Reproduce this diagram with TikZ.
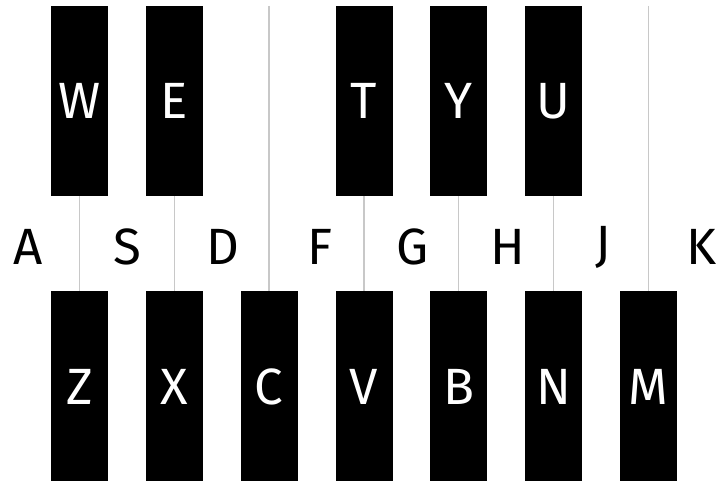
\documentclass[tikz,border=0pt]{standalone}
\usepackage{fontspec}
\setmainfont{Fira Sans}
\usetikzlibrary{positioning}
\definecolor{keyline}{HTML}{C8C8C8}

\begin{document}
\begin{tikzpicture}[x=1pt,y=1pt,
    blackkey/.style={fill=black,text=white,inner sep=0pt,
      minimum width=57pt,minimum height=190pt,font=\fontsize{51}{51}\selectfont},
    keyname/.style={text=black,inner sep=0pt,font=\fontsize{51}{51}\selectfont},
    divider/.style={keyline,line width=1.5pt}]
    \useasboundingbox (0,0) rectangle (718,481);
    % upper row
    \node[blackkey] (w) at (79.5,380) {W};
    \node[blackkey] (e) at (174.5,380) {E};
    \node[blackkey] (t) at (364,380) {T};
    \node[blackkey] (y) at (458.5,380) {Y};
    \node[blackkey] (u) at (553.5,380) {U};
    % lower row
    \node[blackkey] (z) at (79.5,94.5) {Z};
    \node[blackkey] (x) at (174.5,94.5) {X};
    \node[blackkey] (c) at (269,94.5) {C};
    \node[blackkey] (v) at (364,94.5) {V};
    \node[blackkey] (b) at (458.5,94.5) {B};
    \node[blackkey] (n) at (553.5,94.5) {N};
    \node[blackkey] (m) at (648.5,94.5) {M};
    \coordinate (ctop) at (269,475);
    \coordinate (mtop) at (648.5,475);
    \draw[divider] (w.south) -- (z.north);
    \draw[divider] (e.south) -- (x.north);
    \draw[divider] (ctop) -- (c.north);
    \draw[divider] (t.south) -- (v.north);
    \draw[divider] (y.south) -- (b.north);
    \draw[divider] (u.south) -- (n.north);
    \draw[divider] (mtop) -- (m.north);
    % middle row
    \node[keyname] (a) at (28,234) {A};
    \node[keyname] (s) at (127,234) {S};
    \node[keyname] (d) at (223,234) {D};
    \node[keyname] (f) at (320,234) {F};
    \node[keyname] (g) at (413,234) {G};
    \node[keyname] (h) at (508,234) {H};
    \node[keyname] (j) at (603,234) {J};
    \node[keyname] (k) at (702,234) {K};
  \end{tikzpicture}
\end{document}
